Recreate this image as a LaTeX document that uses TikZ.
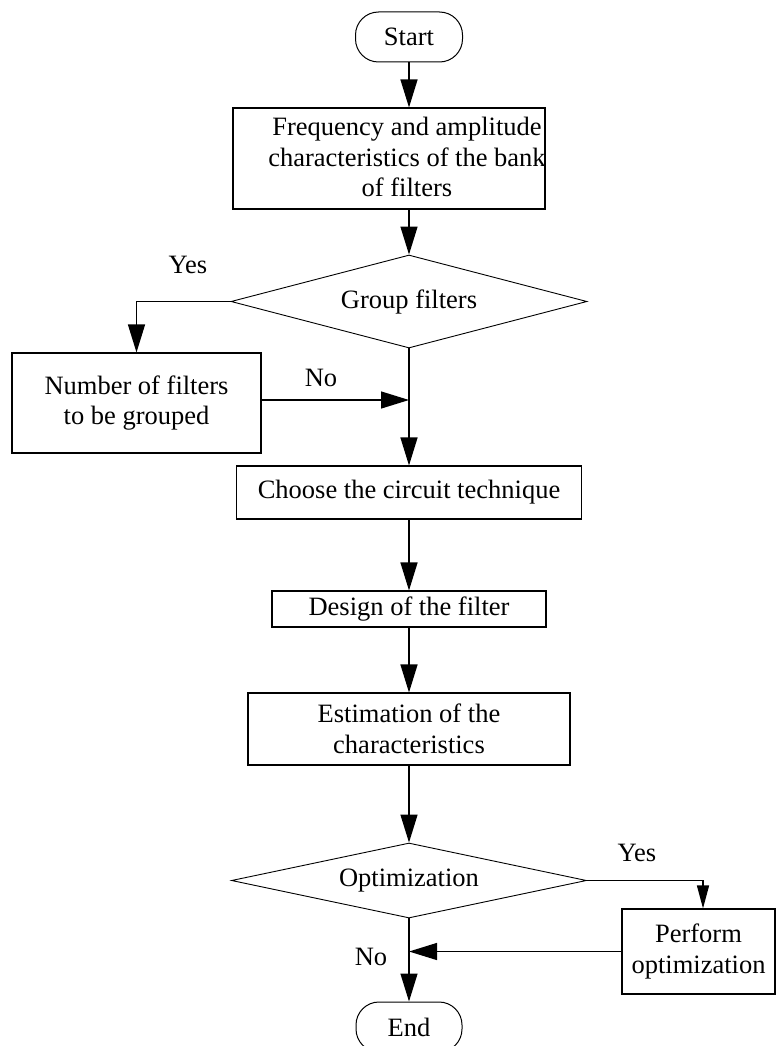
\documentclass[tikz,border=0pt]{standalone}
\usepackage{fontspec}
\setmainfont{Liberation Serif}
\usetikzlibrary{shapes.geometric,arrows.meta}
\begin{document}
\begin{tikzpicture}[x=1pt,y=-1pt,
  every node/.style={font=\fontsize{26.5}{30.5}\selectfont, inner sep=0pt},
  box/.style={draw, line width=1.1pt, rectangle},
  term/.style={draw, line width=1pt, rounded corners=23pt},
  dec/.style={draw, line width=0.9pt, diamond},
  conn/.style={line width=1.3pt, -{Triangle[length=28pt,width=17pt]}},
  smallconn/.style={line width=1.3pt, -{Triangle[length=23pt,width=12pt]}}]
\useasboundingbox (0,0) rectangle (776,1046);

\node[term, minimum width=107pt, minimum height=50pt] (start) at (409,37) {Start};
\node[box, minimum width=312pt, minimum height=101pt] (b1) at (389,158.5) {};
\node[align=center] (b1t) at (407,157) {Frequency and amplitude\\characteristics of the bank\\of filters};
\node[dec, shape aspect=3.83, minimum width=356pt, minimum height=93pt] (d1) at (409,301.5) {Group filters};
\node[box, minimum width=249pt, minimum height=100pt, align=center] (nb) at (136.5,403) {Number of filters\\to be grouped};
\node[box, minimum width=345pt, minimum height=53pt] (cb) at (409,492.5) {Choose the circuit technique};
\node[box, minimum width=274pt, minimum height=36pt] (db) at (409,609) {Design of the filter};
\node[box, minimum width=322pt, minimum height=72pt, align=center] (eb) at (409,729) {Estimation of the\\characteristics};
\node[dec, shape aspect=4.73, minimum width=355pt, minimum height=75pt] (d2) at (409,880.5) {Optimization};
\node[box, minimum width=153pt, minimum height=85pt, align=center] (pb) at (698.5,951.5) {Perform\\optimization};
\node[term, minimum width=106pt, minimum height=50pt] (end) at (409,1027) {End};

\node (yes1) at (188,265) {Yes};
\node (no1) at (321,378) {No};
\node (yes2) at (637,853) {Yes};
\node (no2) at (371,957) {No};

\draw[conn] (start.south) -- (start.south |- b1.north);
\draw[conn] (start.south |- b1.south) -- (d1.north);
\draw[conn] (d1.west) -| (nb.north);
\draw[conn] ([yshift=3pt]nb.east) -- ([yshift=3pt]nb.east -| d1.south);
\draw[conn] (d1.south) -- (cb.north);
\draw[conn] (cb.south) -- (db.north);
\draw[conn] (db.south) -- (eb.north);
\draw[conn] (eb.south) -- (d2.north);
\draw[smallconn] (d2.east) -| ([xshift=4.5pt]pb.north);
\draw[conn] (pb.west) -- (pb.west -| d2.south);
\draw[conn] (d2.south) -- (end.north);
\end{tikzpicture}
\end{document}
